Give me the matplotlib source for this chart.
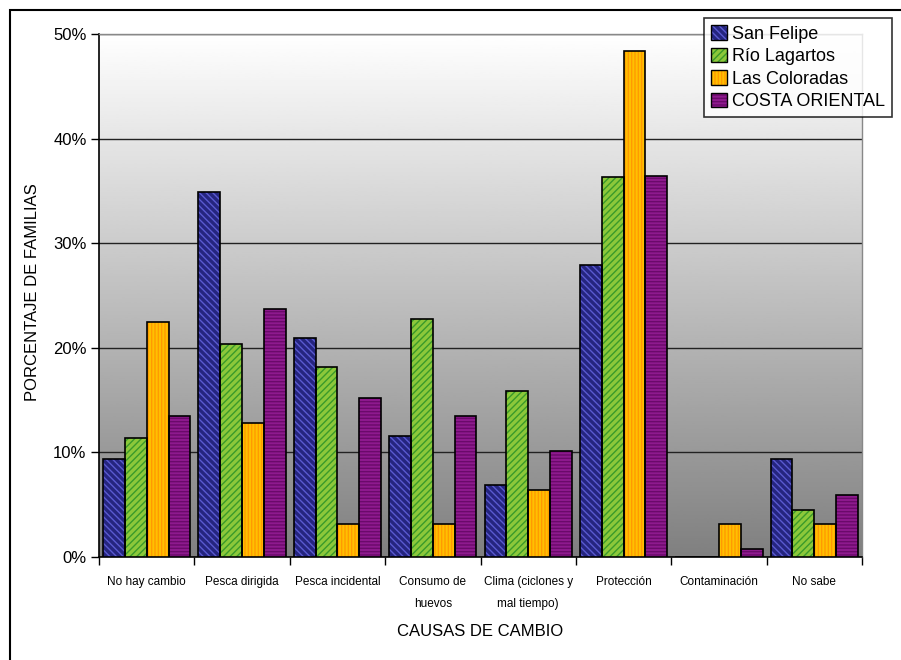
import numpy as np
import matplotlib.pyplot as plt
from matplotlib.patches import Patch, Rectangle
from matplotlib.legend_handler import HandlerTuple
from matplotlib.ticker import PercentFormatter, FixedLocator

plt.rcParams['font.family'] = ['Liberation Sans', 'DejaVu Sans']

categorias = ['No hay cambio', 'Pesca dirigida', 'Pesca incidental', 'Consumo de\nhuevos',
              'Clima (ciclones y\nmal tiempo)', 'Protección', 'Contaminación', 'No sabe']
series = ['San Felipe', 'Río Lagartos', 'Las Coloradas', 'COSTA ORIENTAL']
san_felipe = [9.4, 34.9, 20.9, 11.6, 6.9, 27.9, 0.0, 9.4]
rio_lagartos = [11.4, 20.4, 18.2, 22.8, 15.9, 36.3, 0.0, 4.5]
las_coloradas = [22.5, 12.8, 3.2, 3.2, 6.4, 48.4, 3.2, 3.2]
costa_oriental = [13.5, 23.7, 15.2, 13.5, 10.1, 36.4, 0.8, 5.9]

valores = [san_felipe, rio_lagartos, las_coloradas, costa_oriental]
caras = ['#25257f', '#8cc83a', '#ffc000', '#8e1a8e']
rayas = ['#5a5ad0', '#3a9a2a', '#ff9a00', '#6a0a6a']
tramas = ['\\\\\\\\\\', '/////', '|||||', '-----']

fig = plt.figure(figsize=(9.01, 6.6), dpi=100)
ax = fig.add_axes([99 / 901, 1 - 557 / 660, (862 - 99) / 901, (557 - 34) / 660])

# fondo degradado
grad = np.linspace(0.5, 1.0, 256).reshape(-1, 1)
ax.imshow(grad, extent=[0, 1, 0, 1], transform=ax.transAxes, cmap='gray',
          vmin=0, vmax=1, aspect='auto', origin='lower', zorder=0)

x = np.arange(len(categorias))
w = 0.229
handles = []
for i, (vals, fc, hc, ht) in enumerate(zip(valores, caras, rayas, tramas)):
    pos = x - 1.5 * w + i * w
    ax.bar(pos, vals, w, color=fc, edgecolor=hc, hatch=ht, linewidth=0, zorder=3)
    ax.bar(pos, vals, w, fill=False, edgecolor='black', linewidth=1.2, zorder=4)
    p1 = Patch(facecolor=fc, edgecolor=hc, hatch=ht, linewidth=0)
    p2 = Patch(fill=False, edgecolor='black', linewidth=1)
    handles.append((p1, p2))

ax.set_xlim(-0.5, len(categorias) - 0.5)
ax.set_ylim(0, 50)
ax.set_yticks(np.arange(0, 51, 10))
ax.yaxis.set_major_formatter(PercentFormatter(decimals=0))
ax.grid(axis='y', color='#222222', linewidth=1, zorder=1)
ax.set_axisbelow(True)

ax.xaxis.set_major_locator(FixedLocator(np.arange(-0.5, len(categorias), 1)))
ax.set_xticklabels([])
ax.set_xticks(x, minor=True)
ax.set_xticklabels(categorias, minor=True, fontsize=8.5, linespacing=2.1, va='top')
ax.tick_params(axis='x', which='minor', length=0, pad=14)
ax.tick_params(axis='x', which='major', length=6, width=1, color='black')
ax.tick_params(axis='y', length=6, width=1, labelsize=12, pad=3)

for s in ['left', 'bottom']:
    ax.spines[s].set_color('black')
    ax.spines[s].set_linewidth(1.2)
for s in ['top', 'right']:
    ax.spines[s].set_color('#888888')
    ax.spines[s].set_linewidth(1)

ax.set_xlabel('CAUSAS DE CAMBIO', fontsize=12, labelpad=10)
fig.text(33 / 901, 1 - 292 / 660, 'PORCENTAJE DE FAMILIAS', rotation=90,
         fontsize=12, ha='center', va='center')

leg = fig.legend(handles, series, handler_map={tuple: HandlerTuple(ndivide=1, pad=0)},
                 loc='upper left', bbox_to_anchor=(704 / 901, 1 - 18 / 660),
                 fontsize=13, frameon=True, fancybox=False, borderpad=0.4,
                 labelspacing=0.28, handlelength=0.85, handleheight=0.85,
                 handletextpad=0.3, borderaxespad=0)
leg.get_frame().set_edgecolor('black')
leg.get_frame().set_linewidth(1.2)

# borde exterior del grafico
fig.patches.append(Rectangle((10 / 901, -0.1), 1.2, 1 - 10 / 660 + 0.1, transform=fig.transFigure,
                             fill=False, edgecolor='black', linewidth=1.5))

fig.savefig('out.png', dpi=100)
